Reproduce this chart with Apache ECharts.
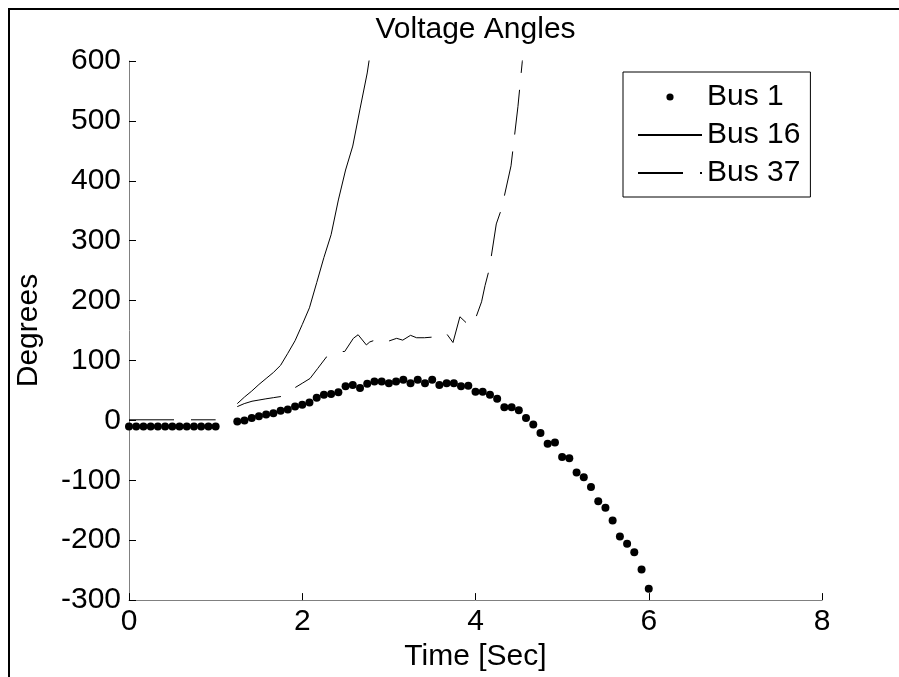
<!DOCTYPE html>
<html><head><meta charset="utf-8">
<script src="https://cdn.jsdelivr.net/npm/echarts@6/dist/echarts.min.js"></script>
<style>html,body{margin:0;padding:0;background:#fff;overflow:hidden}#c{width:899px;height:677px}</style>
</head><body><div id="c"></div>
<script>
// ---- data ----
const xTicks = [0, 2, 4, 6, 8];
const yTicks = [-300, -200, -100, 0, 100, 200, 300, 400, 500, 600];

const bus1Time = [0, 0.083, 0.167, 0.25, 0.333, 0.417, 0.5, 0.583, 0.667, 0.75, 0.833, 0.917, 1.0,
  1.25, 1.333, 1.417, 1.5, 1.583, 1.667, 1.75, 1.833, 1.917, 2.0,
  2.083, 2.167, 2.25, 2.333, 2.417, 2.5, 2.583, 2.667, 2.75, 2.833,
  2.917, 3.0, 3.083, 3.167, 3.25, 3.333, 3.417, 3.5, 3.583, 3.667,
  3.75, 3.833, 3.917, 4.0, 4.083, 4.167, 4.25, 4.333, 4.417, 4.5,
  4.583, 4.667, 4.75, 4.833, 4.917, 5.0, 5.083, 5.167, 5.25, 5.333,
  5.417, 5.5, 5.583, 5.667, 5.75, 5.833, 5.917, 6.0];
const bus1Deg = [-10, -10, -10, -10, -10, -10, -10, -10, -10, -10, -10, -10, -10,
  -2, 0, 4, 7, 10, 12, 16, 18, 23, 26,
  30, 38, 43, 44, 47, 57, 59, 54, 61, 65,
  65, 62, 65, 68, 62, 68, 62, 68, 59, 62,
  62, 57, 58, 48, 48, 43, 36, 22, 22, 17,
  4, -7, -21, -39, -37, -61, -63, -87, -95, -111,
  -135, -146, -167, -194, -206, -220, -249, -281];

const bus16Time = [1.25, 1.333, 1.417, 1.5, 1.583, 1.667, 1.75, 1.833, 1.917, 2.0,
  2.083, 2.167, 2.25, 2.333, 2.417, 2.5, 2.583, 2.667, 2.75, 2.833];
const bus16Deg = [28, 39, 49, 60, 70, 80, 92, 112, 133, 160,
  188, 230, 272, 310, 368, 418, 458, 520, 580, 660];

const bus37Time = [0, 1.0, 1.125, 1.25, 1.33, 1.42, 1.5, 1.58, 1.67, 1.76, 1.83, 1.92, 2.0,
  2.09, 2.18, 2.28, 2.36, 2.44, 2.49, 2.59, 2.645, 2.74, 2.78, 2.86, 2.93,
  2.99, 3.09, 3.16, 3.25, 3.32, 3.41, 3.5, 3.59, 3.66, 3.74, 3.82, 3.93,
  3.99, 4.07, 4.11, 4.16, 4.24, 4.30, 4.41, 4.49, 4.54, 4.6];
const bus37Deg = [1, 1, null, 23, 28, 32, 34, 36, 38, 40, 46, 55, 62,
  70, 87, 106, 113, 115, 115, 137, 143, 126, 131, 135, 137,
  132, 137, 134, 142, 138, 138, 139, 142, 146, 130, 173, 158,
  166, 198, 225, 253, 328, 353, 425, 524, 599, 690];

const seriesNames = ['Bus 1', 'Bus 16', 'Bus 37'];

const zip = (a, b) => a.map((t, i) => [t, b[i]]);
const F = '"Liberation Sans", Arial, Helvetica, sans-serif';
const FS = 30;

const chart = echarts.init(document.getElementById('c'), null, {renderer: 'canvas'});
chart.setOption({
  animation: false,
  backgroundColor: '#fff',
  title: {
    text: 'Voltage Angles', left: 475.5, top: 15, textAlign: 'center', padding: 0,
    textStyle: {fontFamily: F, fontSize: FS, fontWeight: 'normal', color: '#000'}
  },
  grid: {left: 129, right: 77, top: 61, bottom: 74, containLabel: false},
  xAxis: {
    type: 'value', min: xTicks[0], max: xTicks[xTicks.length - 1], interval: 2,
    name: 'Time [Sec]', nameLocation: 'middle', nameGap: 37,
    nameTextStyle: {fontFamily: F, fontSize: FS, color: '#000'},
    axisLine: {show: true, onZero: false, lineStyle: {color: '#808080', width: 1}},
    axisTick: {show: true, inside: true, length: 7, lineStyle: {color: '#000', width: 1}},
    axisLabel: {margin: 7, fontFamily: F, fontSize: FS, color: '#000', hideOverlap: false, showMinLabel: true, showMaxLabel: true},
    splitLine: {show: false}
  },
  yAxis: {
    type: 'value', min: yTicks[0], max: yTicks[yTicks.length - 1], interval: 100,
    name: 'Degrees', nameLocation: 'middle', nameGap: 85,
    nameTextStyle: {fontFamily: F, fontSize: FS, color: '#000'},
    axisLine: {show: true, onZero: false, lineStyle: {color: '#808080', width: 1}},
    axisTick: {show: true, inside: true, length: 7, lineStyle: {color: '#000', width: 1}},
    axisLabel: {margin: 8, fontFamily: F, fontSize: FS, color: '#000', hideOverlap: false, showMinLabel: true, showMaxLabel: true},
    splitLine: {show: false}
  },
  legend: {
    orient: 'vertical', left: 623, top: 72, padding: [10, 10, 9, 14],
    itemWidth: 64, itemHeight: 9, itemGap: 8,
    backgroundColor: '#fff', borderColor: '#000', borderWidth: 1, borderRadius: 0,
    textStyle: {fontFamily: F, fontSize: FS, color: '#000'},
    data: [
      {name: seriesNames[0], lineStyle: {opacity: 0}},
      {name: seriesNames[1], itemStyle: {opacity: 0}},
      {name: seriesNames[2], itemStyle: {opacity: 0}}
    ]
  },
  series: [
    {
      name: seriesNames[0], type: 'line', data: zip(bus1Time, bus1Deg),
      symbol: 'circle', symbolSize: 8, showSymbol: true, showAllSymbol: true,
      itemStyle: {color: '#000'},
      lineStyle: {color: 'rgba(0,0,0,0)', width: 0, opacity: 0},
      z: 5, clip: true
    },
    {
      name: seriesNames[1], type: 'line', data: zip(bus16Time, bus16Deg),
      symbol: 'none', itemStyle: {color: '#000'},
      lineStyle: {color: '#000', width: 1}, clip: true
    },
    {
      name: seriesNames[2], type: 'line', data: zip(bus37Time, bus37Deg),
      symbol: 'none', connectNulls: false, itemStyle: {color: '#000'},
      lineStyle: {color: '#000', width: 1, type: [45, 17]}, clip: true
    }
  ],
  graphic: [
    {type: 'line', silent: true, z: 100, shape: {x1: 9, y1: 9, x2: 899, y2: 9},
     style: {stroke: '#000', lineWidth: 2}},
    {type: 'line', silent: true, z: 100, shape: {x1: 9, y1: 8, x2: 9, y2: 677},
     style: {stroke: '#000', lineWidth: 2}}
  ]
});
</script>
</body></html>
